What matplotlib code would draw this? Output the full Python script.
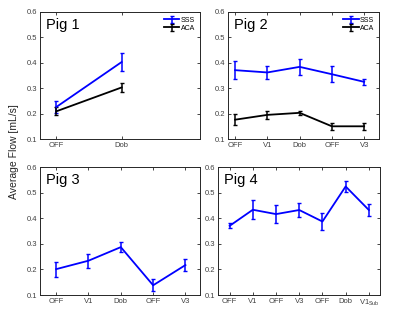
import numpy as np
import matplotlib
matplotlib.use("Agg")
import matplotlib.pyplot as plt

plt.rcParams['font.family'] = ['Liberation Sans', 'DejaVu Sans']
plt.rcParams['mathtext.fontset'] = 'custom'
plt.rcParams['mathtext.rm'] = 'Liberation Sans'

# Pig 1
pig1_labels = ["OFF", "Dob"]
pig1_sss = [0.226, 0.403]
pig1_sss_err = [0.024, 0.035]
pig1_aca = [0.209, 0.303]
pig1_aca_err = [0.016, 0.019]

# Pig 2
pig2_labels = ["OFF", "V1", "Dob", "OFF", "V3"]
pig2_sss = [0.371, 0.362, 0.384, 0.355, 0.325]
pig2_sss_err = [0.035, 0.026, 0.031, 0.032, 0.013]
pig2_aca = [0.176, 0.195, 0.203, 0.150, 0.150]
pig2_aca_err = [0.021, 0.017, 0.007, 0.014, 0.013]

# Pig 3
pig3_labels = ["OFF", "V1", "Dob", "OFF", "V3"]
pig3_sss = [0.201, 0.234, 0.287, 0.138, 0.217]
pig3_sss_err = [0.029, 0.028, 0.020, 0.024, 0.023]

# Pig 4
pig4_labels = ["OFF", "V1", "OFF", "V3", "OFF", "Dob", "V1$_{\\mathrm{Sub}}$"]
pig4_sss = [0.370, 0.433, 0.416, 0.432, 0.387, 0.524, 0.432]
pig4_sss_err = [0.010, 0.038, 0.034, 0.027, 0.034, 0.022, 0.023]

W, H = 400, 312
fig = plt.figure(figsize=(4, 3.12), dpi=100)


def make_axes(x0, y0, x1, y1):
    # pixel box -> figure fraction
    return fig.add_axes([x0 / W, 1 - y1 / H, (x1 - x0) / W, (y1 - y0) / H])


def style(ax, labels, xlim, title):
    ax.set_xticks(np.arange(1, len(labels) + 1))
    ax.set_xticklabels(labels)
    ax.set_xlim(*xlim)
    ax.set_ylim(0.1, 0.6)
    ax.set_yticks([0.1, 0.2, 0.3, 0.4, 0.5, 0.6])
    ax.tick_params(direction='in', top=True, right=True, length=2.5, width=0.6,
                   labelsize=5.5, colors='#262626', labelcolor='#404040', pad=2)
    for s in ax.spines.values():
        s.set_linewidth(0.7)
        s.set_color('#262626')
    ax.text(0.04, 0.95, title, transform=ax.transAxes, fontsize=10.5,
            va='top', ha='left')


def draw(ax, y, err, color, label=None):
    x = np.arange(1, len(y) + 1)
    ax.errorbar(x, y, yerr=err, color=color, lw=1.3, elinewidth=1.1,
                capsize=1.5, capthick=1.0, label=label)


ax1 = make_axes(40, 12, 200, 139)
draw(ax1, pig1_sss, pig1_sss_err, '#0000ff', 'SSS')
draw(ax1, pig1_aca, pig1_aca_err, 'black', 'ACA')
style(ax1, pig1_labels, (0.75, 3.2), "Pig 1")

ax2 = make_axes(228, 12, 379, 139)
draw(ax2, pig2_sss, pig2_sss_err, '#0000ff', 'SSS')
draw(ax2, pig2_aca, pig2_aca_err, 'black', 'ACA')
style(ax2, pig2_labels, (0.78, 5.46), "Pig 2")

ax3 = make_axes(40, 167, 200, 295)
draw(ax3, pig3_sss, pig3_sss_err, '#0000ff')
style(ax3, pig3_labels, (0.5, 5.45), "Pig 3")

ax4 = make_axes(218, 167, 380, 295)
draw(ax4, pig4_sss, pig4_sss_err, '#0000ff')
style(ax4, pig4_labels, (0.5, 7.48), "Pig 4")

for ax in (ax1, ax2):
    ax.legend(loc='upper right', fontsize=5, frameon=False, handlelength=2.2,
              handletextpad=0.2, labelspacing=0.1, borderaxespad=0.3)

fig.text(14 / W, 1 - 152 / H, "Average Flow [mL/s]", rotation=90,
         ha='center', va='center', fontsize=7.5, color='#262626')

fig.savefig("out.png", dpi=100)
